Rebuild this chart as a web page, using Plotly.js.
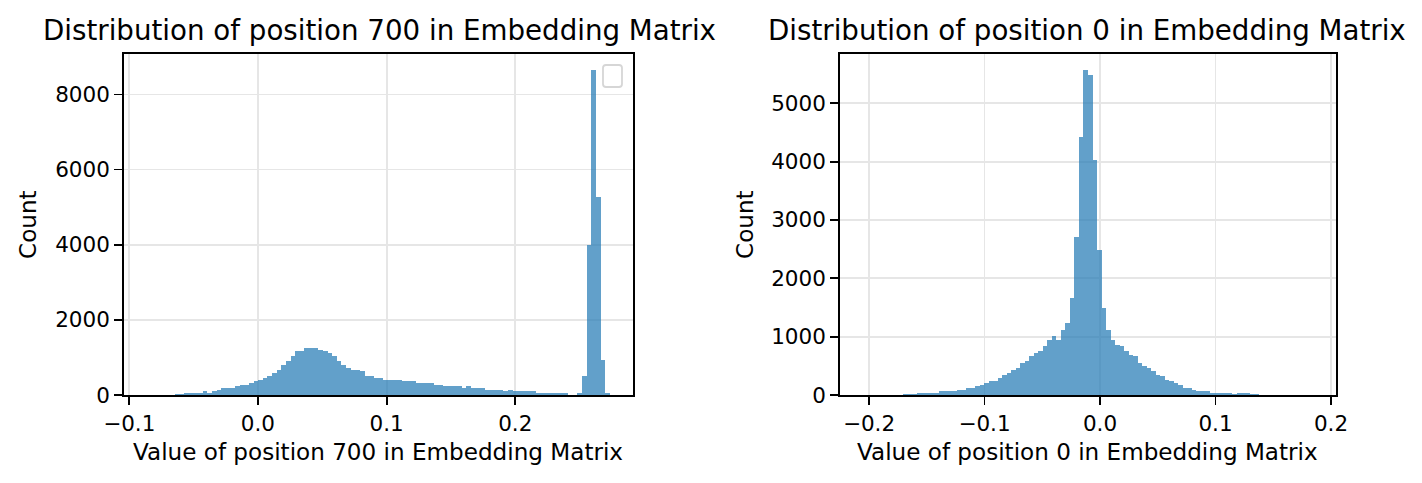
<!DOCTYPE html>
<html>
<head>
<meta charset="utf-8">
<script src="https://cdn.plot.ly/plotly-3.0.1.min.js"></script>
<style>
  html, body { margin: 0; padding: 0; background: #fff; }
  #chart { width: 1422px; height: 483px; }
</style>
</head>
<body>
<div id="chart"></div>
<script>
// histogram counts, 100 bins each
const leftBinStart = -0.0861;
const leftBinEnd = 0.2735;
const leftCounts = [
  2, 3, 4, 6, 8, 12, 18, 40, 45, 50,
  52, 55, 105, 55, 105, 135, 180, 186, 190, 240,
  262, 270, 320, 372, 400, 452, 505, 585, 665, 800,
  905, 1038, 1160, 1175, 1245, 1250, 1250, 1197, 1170, 1117,
  1038, 905, 800, 718, 670, 660, 638, 510, 500, 455,
  450, 405, 400, 400, 395, 375, 372, 370, 325, 320,
  320, 318, 268, 265, 242, 240, 240, 238, 186, 240,
  188, 186, 184, 135, 133, 133, 130, 106, 133, 108,
  106, 106, 105, 104, 55, 53, 53, 52, 50, 50,
  48, 8, 6, 50, 505, 3990, 8644, 5266, 930, 50
];

const rightBinStart = -0.2056;
const rightBinEnd = 0.1848;
const rightCounts = [
  1, 1, 2, 2, 3, 4, 5, 6, 8, 10,
  14, 25, 28, 32, 35, 36, 38, 62, 66, 70,
  72, 86, 90, 115, 125, 154, 172, 206, 236, 245,
  292, 343, 377, 429, 463, 549, 583, 669, 721, 755,
  841, 944, 1012, 944, 1115, 1235, 1664, 2710, 4425, 5574,
  5488, 4030, 2487, 1492, 1115, 944, 858, 841, 755, 686,
  669, 549, 498, 463, 412, 343, 326, 257, 240, 206,
  172, 125, 115, 86, 72, 68, 64, 38, 35, 34,
  32, 30, 10, 30, 30, 28, 12, 10, 8, 6,
  5, 4, 3, 3, 2, 2, 1, 1, 1, 1
];

const leftXTicks = [-0.1, 0.0, 0.1, 0.2];
const leftXLabels = ['\u22120.1', '0.0', '0.1', '0.2'];
const leftYTicks = [0, 2000, 4000, 6000, 8000];
const rightXTicks = [-0.2, -0.1, 0.0, 0.1, 0.2];
const rightXLabels = ['\u22120.2', '\u22120.1', '0.0', '0.1', '0.2'];
const rightYTicks = [0, 1000, 2000, 3000, 4000, 5000];

const W = 1422, H = 483;
const px = v => v / W;          // pixel -> paper x
const py = v => 1 - v / H;      // pixel -> paper y

function binCenters(start, end, n) {
  const w = (end - start) / n;
  return { w, x: Array.from({ length: n }, (_, i) => start + (i + 0.5) * w) };
}

const lb = binCenters(leftBinStart, leftBinEnd, leftCounts.length);
const rb = binCenters(rightBinStart, rightBinEnd, rightCounts.length);

const barColor = 'rgba(31,119,180,0.7)';

const traces = [
  { type: 'bar', x: lb.x, y: leftCounts, width: lb.w, xaxis: 'x', yaxis: 'y',
    marker: { color: barColor, line: { width: 0 } }, hoverinfo: 'x+y' },
  { type: 'bar', x: rb.x, y: rightCounts, width: rb.w, xaxis: 'x2', yaxis: 'y2',
    marker: { color: barColor, line: { width: 0 } }, hoverinfo: 'x+y' }
];

const font = { family: 'DejaVu Sans, sans-serif', color: '#000' };

function axisStyle(extra) {
  return Object.assign({
    showline: true, mirror: true, linecolor: '#000', linewidth: 1.8,
    showgrid: true, gridcolor: '#e6e6e6', gridwidth: 1.8,
    zeroline: false, ticks: 'outside', ticklen: 8, tickwidth: 1.8, tickcolor: '#000',
    tickfont: { family: font.family, size: 21.5, color: '#000' },
    tickmode: 'array', fixedrange: true
  }, extra);
}

const yDom = [py(395), py(54)];

const layout = {
  width: W, height: H,
  margin: { l: 0, r: 0, t: 0, b: 0 },
  paper_bgcolor: '#fff', plot_bgcolor: '#fff',
  showlegend: false, bargap: 0,
  font: font,
  xaxis: axisStyle({ domain: [px(124), px(633)], range: [-0.1041, 0.2915],
    tickvals: leftXTicks, ticktext: leftXLabels, anchor: 'y' }),
  yaxis: axisStyle({ domain: yDom, range: [0, 9076], tickvals: leftYTicks,
    ticktext: leftYTicks.map(String), anchor: 'x' }),
  xaxis2: axisStyle({ domain: [px(840), px(1336)], range: [-0.2251, 0.2043],
    tickvals: rightXTicks, ticktext: rightXLabels, anchor: 'y2' }),
  yaxis2: axisStyle({ domain: yDom, range: [0, 5844], tickvals: rightYTicks,
    ticktext: rightYTicks.map(String), anchor: 'x2' }),
  annotations: [
    { text: 'Distribution of position 700 in Embedding Matrix', x: px(379.5), y: py(30) },
    { text: 'Distribution of position 0 in Embedding Matrix', x: px(1087), y: py(30) },
    { text: 'Value of position 700 in Embedding Matrix', x: px(378), y: py(452), size: 23.1 },
    { text: 'Value of position 0 in Embedding Matrix', x: px(1087.5), y: py(452), size: 23.1 },
    { text: 'Count', x: px(28), y: py(225), size: 23.1, angle: -90 },
    { text: 'Count', x: px(745), y: py(225), size: 23.1, angle: -90 }
  ].map(a => ({
    text: a.text, x: a.x, y: a.y, xref: 'paper', yref: 'paper',
    xanchor: 'center', yanchor: 'middle', showarrow: false, textangle: a.angle || 0,
    font: { family: font.family, size: a.size || 27.7, color: '#000' }
  })),
  shapes: [
    // the empty legend frame in the left panel
    (() => {
      const x0 = px(603), x1 = px(622), y0 = py(87), y1 = py(65);
      const rx = px(3), ry = 3 / H;
      return {
        type: 'path', xref: 'paper', yref: 'paper',
        path: `M ${x0 + rx} ${y0} L ${x1 - rx} ${y0} Q ${x1} ${y0} ${x1} ${y0 + ry} ` +
              `L ${x1} ${y1 - ry} Q ${x1} ${y1} ${x1 - rx} ${y1} L ${x0 + rx} ${y1} ` +
              `Q ${x0} ${y1} ${x0} ${y1 - ry} L ${x0} ${y0 + ry} Q ${x0} ${y0} ${x0 + rx} ${y0} Z`,
        line: { color: '#d6d6d6', width: 1.8 }, fillcolor: 'rgba(255,255,255,0.8)'
      };
    })()
  ]
};

Plotly.newPlot('chart', traces, layout, { displayModeBar: false, staticPlot: true });
</script>
</body>
</html>
